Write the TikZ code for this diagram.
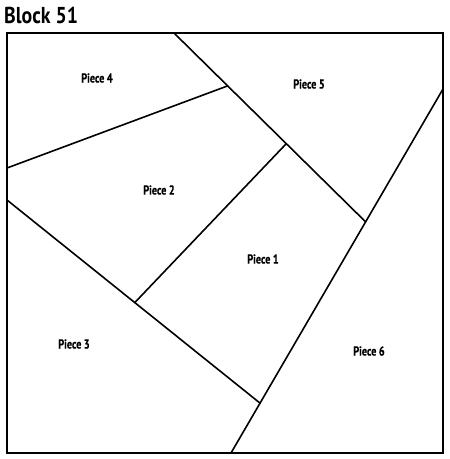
\documentclass[tikz,border=0pt]{standalone}
\usepackage{fontspec}
\usepackage{tikz}
\usetikzlibrary{calc}
\newfontfamily\piecefont{PT Sans}[FakeStretch=0.78,FakeBold=0.6]
\newfontfamily\titlefont{PT Sans}[FakeStretch=0.86]

\tikzset{
  seam/.style={line width=1.6pt,line cap=round},
  piecelabel/.style={font=\piecefont\bfseries\fontsize{13}{13}\selectfont,inner sep=0pt}
}

\begin{document}
\begin{tikzpicture}[x=1pt,y=-1pt]

    \useasboundingbox (0,0) rectangle (450,459);

    % titulo
    \node[anchor=west,inner sep=0pt,font=\titlefont\bfseries\fontsize{23}{23}\selectfont]
      (title) at (4,15){Block 51};

    % borda do bloco
    \draw[line width=2pt] (7,33) rectangle (443,453);

    % pontos das costuras
    \coordinate (a1) at (174,33);
    \coordinate (c1) at (443,89);
    \coordinate (c2) at (231,453);
    \coordinate (a2) at ($(c1)!0.365!(c2)$);
    \coordinate (b1) at (7,168);
    \coordinate (b2) at ($(a1)!0.28!(a2)$);
    \coordinate (d1) at (7,200);
    \coordinate (d2) at ($(c1)!0.863!(c2)$);
    \coordinate (e1) at ($(d1)!0.505!(d2)$);
    \coordinate (e2) at ($(a1)!0.586!(a2)$);

    % costuras
    \draw[seam] (a1) -- (a2);
    \draw[seam] (b1) -- (b2);
    \draw[seam] (c1) -- (c2);
    \draw[seam] (d1) -- (d2);
    \draw[seam] (e1) -- (e2);

    % pecas
    \node[piecelabel] (p4) at (97,78){Piece 4};
    \node[piecelabel] (p5) at (309,84){Piece 5};
    \node[piecelabel] (p2) at (159,190){Piece 2};
    \node[piecelabel] (p1) at (263,259){Piece 1};
    \node[piecelabel] (p3) at (74,344){Piece 3};
    \node[piecelabel] (p6) at (369,351){Piece 6};

  \end{tikzpicture}
\end{document}
